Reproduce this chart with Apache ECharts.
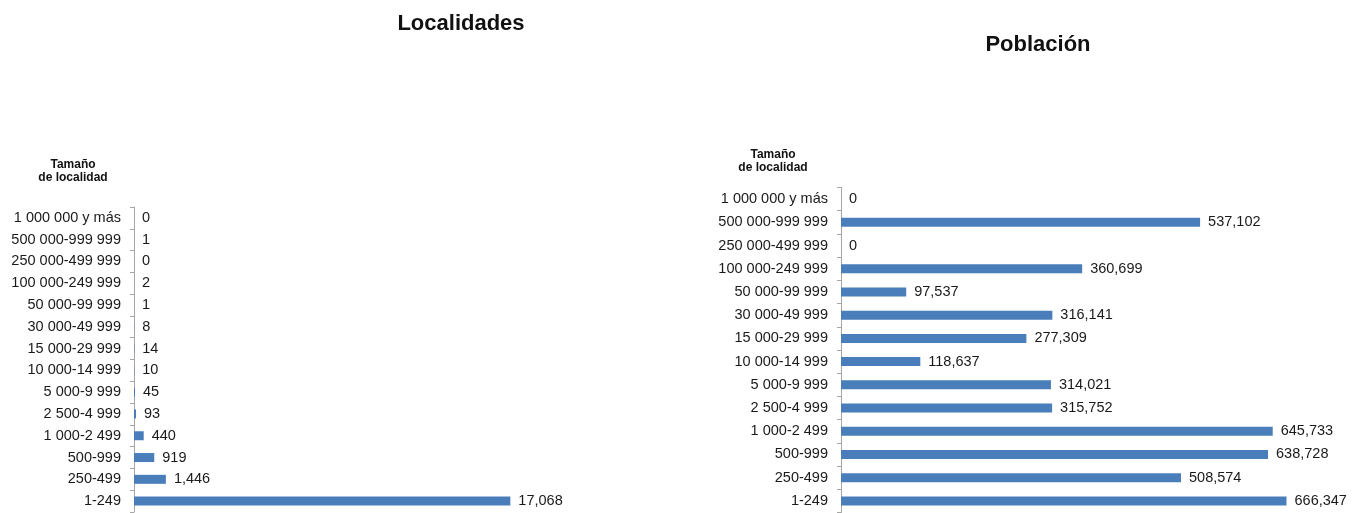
<!DOCTYPE html>
<html><head><meta charset="utf-8">
<script src="https://cdn.jsdelivr.net/npm/echarts@6/dist/echarts.min.js"></script>
<style>html,body{margin:0;padding:0;background:#fff}#c{width:1363px;height:513px}</style>
</head><body><div id="c"></div>
<script>
const categories = ["1 000 000 y más","500 000-999 999","250 000-499 999","100 000-249 999","50 000-99 999","30 000-49 999","15 000-29 999","10 000-14 999","5 000-9 999","2 500-4 999","1 000-2 499","500-999","250-499","1-249"];
const localidades = [0,1,0,2,1,8,14,10,45,93,440,919,1446,17068];
const poblacion = [0,537102,0,360699,97537,316141,277309,118637,314021,315752,645733,638728,508574,666347];
const titles = ["Localidades","Población"];
const header = "Tamaño\nde localidad";

const font = '"Liberation Sans", Arial, sans-serif';
const barColor = '#4a7ebb';
const fmt = p => Number(p.value).toLocaleString('en-US');

const chart = echarts.init(document.getElementById('c'), null, {renderer:'canvas'});
function yAx(gi){
  return {type:'category', gridIndex:gi, data:categories, inverse:true,
    axisLine:{show:true, lineStyle:{color:'#a6a6a6', width:1}},
    axisTick:{show:true, length:4, lineStyle:{color:'#a6a6a6'}},
    axisLabel:{color:'#1a1a1a', fontFamily:font, fontSize:14.5, margin:13},
    splitLine:{show:false}};
}
function xAx(gi, max){
  return {type:'value', gridIndex:gi, min:0, max:max, show:false, splitLine:{show:false}};
}
function ser(gi, data){
  return {type:'bar', xAxisIndex:gi, yAxisIndex:gi, data:data, barWidth:9,
    itemStyle:{color:barColor}, silent:true,
    label:{show:true, position:'right', distance:8, color:'#1a1a1a', fontFamily:font, fontSize:14.5, formatter:fmt}};
}
chart.setOption({
  animation:false,
  title:[
    {text:titles[0], left:456, top:19, textAlign:'center', textVerticalAlign:'middle',
     textStyle:{fontFamily:font, fontWeight:'bold', fontSize:22, color:'#111'}},
    {text:titles[1], left:1033, top:40, textAlign:'center', textVerticalAlign:'middle',
     textStyle:{fontFamily:font, fontWeight:'bold', fontSize:22, color:'#111'}}
  ],
  graphic:[
    {type:'text', x:73, y:158, style:{text:header, fontFamily:font, fontWeight:'bold', fontSize:12, fill:'#111', align:'center', lineHeight:13}},
    {type:'text', x:773, y:148, style:{text:header, fontFamily:font, fontWeight:'bold', fontSize:12, fill:'#111', align:'center', lineHeight:13}}
  ],
  grid:[
    {left:134, top:207, width:441, height:305},
    {left:841, top:187.5, width:468, height:325}
  ],
  xAxis:[xAx(0,20000), xAx(1,700000)],
  yAxis:[yAx(0), yAx(1)],
  series:[ser(0, localidades), ser(1, poblacion)]
});
</script></body></html>
